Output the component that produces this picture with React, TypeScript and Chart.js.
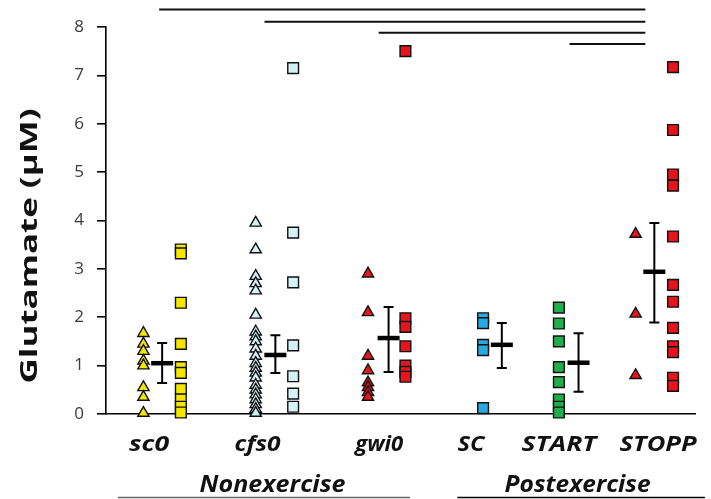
import React, { useEffect, useRef } from 'react';
import { Chart, registerables } from 'chart.js';

Chart.register(...registerables);

// ---------------- data ----------------
const categories = ['sc0', 'cfs0', 'gwi0', 'SC', 'START', 'STOPP'];
const groupNames = ['Nonexercise', 'Postexercise'];
const yTickValues = [0, 1, 2, 3, 4, 5, 6, 7, 8];
const yTitle = 'Glutamate (\u00b5M)';

const sc0Triangles = [1.67, 1.45, 1.3, 1.1, 1.0, 0.55, 0.35, 0.02];
const sc0Squares = [3.4, 3.32, 2.3, 1.45, 0.97, 0.85, 0.52, 0.3, 0.15, 0.03];
const cfs0Triangles = [3.95, 3.4, 2.85, 2.7, 2.55, 2.05, 1.7, 1.6, 1.5, 1.35, 1.2, 1.05, 0.95, 0.85, 0.75, 0.6, 0.5, 0.4, 0.3, 0.2, 0.1, 0.02];
const cfs0Squares = [7.15, 3.75, 2.72, 1.42, 0.78, 0.42, 0.15];
const gwi0Triangles = [2.9, 2.1, 1.2, 0.9, 0.65, 0.55, 0.45, 0.35];
const gwi0Squares = [7.5, 1.98, 1.8, 1.4, 1.0, 0.87, 0.77];
const scSquares = [1.98, 1.88, 1.43, 1.32, 0.12];
const startSquares = [2.2, 1.87, 1.5, 0.97, 0.66, 0.3, 0.15, 0.03];
const stoppTriangles = [3.72, 2.07, 0.8];
const stoppSquares = [7.17, 5.87, 4.95, 4.72, 3.67, 2.67, 2.32, 1.78, 1.4, 1.28, 0.75, 0.58];

const means = [1.05, 1.22, 1.57, 1.43, 1.06, 2.94];
const errLow = [0.64, 0.85, 0.87, 0.95, 0.46, 1.89];
const errHigh = [1.47, 1.63, 2.21, 1.88, 1.67, 3.95];

// significance brackets: [from category, to category]
const sigPairs = [[0, 5], [1, 5], [2, 5], [4, 5]];

// ---------------- layout (x positions in axis units) ----------------
const X_MAX = 31.5;
const centerX = [3, 9.05, 15.1, 21.15, 25.25, 29.3];
const triX = [2, 8, 14, null, null, 28.3];
const sqX = [4, 10, 16, 20.15, 24.2, 30.3];
const labelX = [2.3, 8.1, 14.6, 19.5, 24.2, 29.5];
const groupLabelX = [8.9, 25.2];
const groupLineX = [[0.63, 16.25], [18.77, 32]];
const sigStartX = [2.84, 8.47, 14.57, 24.77];
const sigEndX = 28.82;
const sigY = [8.36, 8.11, 7.88, 7.65];

const colors = ['#f5e600', '#d4f1f3', '#e8141c', '#27a9e1', '#1fae4b', '#e8141c'];

const triangleSets = [sc0Triangles, cfs0Triangles, gwi0Triangles, null, null, stoppTriangles];
const squareSets = [sc0Squares, cfs0Squares, gwi0Squares, scSquares, startSquares, stoppSquares];

const FONT = '"Open Sans", "Noto Sans", sans-serif';

function buildDatasets() {
  const ds: any[] = [];
  categories.forEach((cat, i) => {
    const tri = triangleSets[i];
    if (tri && triX[i] !== null) {
      ds.push({
        label: cat + ' triangles',
        data: tri.map((v) => ({ x: triX[i], y: v })),
        pointStyle: 'triangle',
        pointRadius: 6.5,
        backgroundColor: colors[i],
        borderColor: '#111',
        borderWidth: 1.4,
        showLine: false,
        clip: false,
      });
    }
    const sq = squareSets[i];
    ds.push({
      label: cat + ' squares',
      data: sq.map((v) => ({ x: sqX[i], y: v })),
      pointStyle: 'rect',
      pointRadius: 7.6,
      backgroundColor: colors[i],
      borderColor: '#111',
      borderWidth: 1.4,
      showLine: false,
      clip: false,
    });
    ds.push({
      label: cat + ' mean',
      data: [{ x: centerX[i], y: means[i] }],
      pointStyle: 'line',
      pointRadius: 11,
      borderColor: '#000',
      backgroundColor: '#000',
      borderWidth: 4.5,
      showLine: false,
      clip: false,
    });
  });
  return ds;
}

function fitText(ctx: any, text: string, x: number, y: number, target: number) {
  const w = ctx.measureText(text).width;
  ctx.save();
  ctx.translate(x, y);
  ctx.scale(target / w, 1);
  ctx.fillText(text, 0, 0);
  ctx.restore();
}

const overlayPlugin = {
  id: 'overlay',
  beforeDatasetsDraw(chart: any) {
    const { ctx, scales } = chart;
    const xs = scales.x, ys = scales.y;
    ctx.save();
    ctx.strokeStyle = '#000';
    ctx.lineWidth = 2;
    categories.forEach((_, i) => {
      const x = xs.getPixelForValue(centerX[i]);
      const y1 = ys.getPixelForValue(errLow[i]);
      const y2 = ys.getPixelForValue(errHigh[i]);
      ctx.beginPath();
      ctx.moveTo(x, y1); ctx.lineTo(x, y2);
      ctx.moveTo(x - 5, y1); ctx.lineTo(x + 5, y1);
      ctx.moveTo(x - 5, y2); ctx.lineTo(x + 5, y2);
      ctx.stroke();
    });
    ctx.restore();
  },
  afterDraw(chart: any) {
    const { ctx, scales } = chart;
    const xs = scales.x, ys = scales.y;
    ctx.save();
    // significance lines
    ctx.strokeStyle = '#111';
    ctx.lineWidth = 2;
    sigPairs.forEach((_, k) => {
      const y = ys.getPixelForValue(sigY[k]);
      ctx.beginPath();
      ctx.moveTo(xs.getPixelForValue(sigStartX[k]), y);
      ctx.lineTo(xs.getPixelForValue(sigEndX), y);
      ctx.stroke();
    });
    // category labels
    ctx.fillStyle = '#111';
    ctx.textAlign = 'center';
    ctx.textBaseline = 'middle';
    ctx.font = 'italic bold 22px ' + FONT;
    const catWidths = [40, 46, 48, 27, 75, 77];
    categories.forEach((c, i) => {
      fitText(ctx, c, xs.getPixelForValue(labelX[i]), 445, catWidths[i]);
    });
    // group labels
    ctx.font = 'italic bold 23px ' + FONT;
    const groupWidths = [146, 146];
    groupNames.forEach((g, i) => {
      fitText(ctx, g, xs.getPixelForValue(groupLabelX[i]), 485, groupWidths[i]);
    });
    // group lines
    const lineColors = ['#666', '#000'];
    groupNames.forEach((_, i) => {
      ctx.strokeStyle = lineColors[i];
      ctx.lineWidth = 1.6;
      ctx.beginPath();
      ctx.moveTo(xs.getPixelForValue(groupLineX[i][0]), 497.5);
      ctx.lineTo(xs.getPixelForValue(groupLineX[i][1]), 497.5);
      ctx.stroke();
    });
    // y title
    ctx.font = 'bold 24px ' + FONT;
    const w = ctx.measureText(yTitle).width;
    const target = 275;
    ctx.translate(30, 246);
    ctx.rotate(-Math.PI / 2);
    ctx.scale(target / w, 1);
    ctx.fillStyle = '#111';
    ctx.fillText(yTitle, 0, 0);
    ctx.restore();
  },
};

export default function App() {
  const ref = useRef<HTMLCanvasElement | null>(null);
  useEffect(() => {
    if (!ref.current) return;
    const chart = new Chart(ref.current, {
      type: 'scatter',
      data: { datasets: buildDatasets() },
      options: {
        responsive: false,
        animation: false,
        devicePixelRatio: 1,
        layout: { padding: { top: 27, right: 6, left: 0, bottom: 0 } },
        plugins: { legend: { display: false }, tooltip: { enabled: false }, title: { display: false } },
        scales: {
          x: {
            type: 'linear',
            min: 0,
            max: X_MAX,
            ticks: { display: false },
            grid: { display: false, drawTicks: false },
            border: { display: true, color: '#000', width: 1.6 },
            afterFit: (s: any) => { s.height = 85; },
          },
          y: {
            type: 'linear',
            min: 0,
            max: 8,
            afterBuildTicks: (s: any) => { s.ticks = yTickValues.map((v) => ({ value: v })); },
            ticks: {
              padding: 13,
              color: '#3a3a3a',
              font: { family: FONT, size: 17 },
            },
            grid: { drawOnChartArea: false, drawTicks: true, tickLength: 9, color: '#000', lineWidth: 1.6 },
            border: { display: true, color: '#000', width: 1.6 },
            afterFit: (s: any) => { s.width = 106; },
          },
        },
      },
      plugins: [overlayPlugin],
    });
    return () => chart.destroy();
  }, []);
  return (
    <div style={{ position: 'fixed', left: 0, top: 0, width: 711, height: 499, background: '#fff' }}>
      <canvas ref={ref} width={711} height={499} style={{ display: 'block' }} />
    </div>
  );
}
